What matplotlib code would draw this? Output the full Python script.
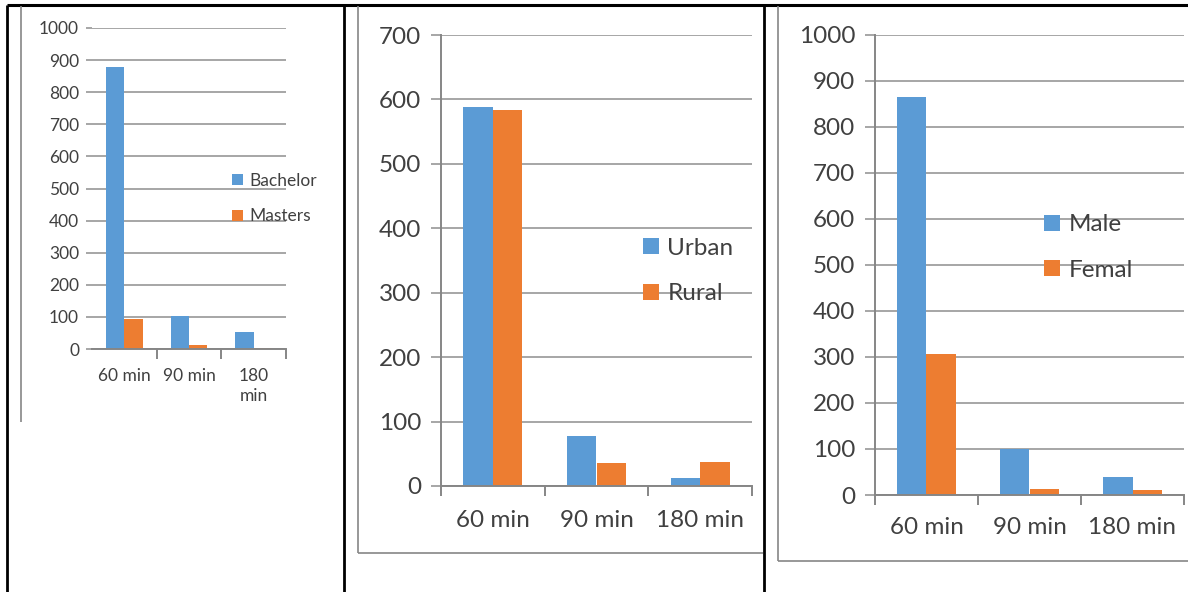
import matplotlib
matplotlib.use("Agg")
import matplotlib.pyplot as plt
from matplotlib.lines import Line2D
from matplotlib.ticker import FixedLocator, NullFormatter

plt.rcParams['font.family'] = ['Lato', 'DejaVu Sans']

# ---- data ----
durations = ["60 min", "90 min", "180 min"]
duration_labels_narrow = ["60 min", "90 min", "180\nmin"]

bachelor = [877, 102, 52]
masters = [95, 12, 4]

urban = [588, 77, 12]
rural = [583, 36, 38]

male = [864, 100, 40]
female = [307, 14, 11]

BLUE = "#5B9BD5"
ORANGE = "#ED7D31"
GRID = "#A6A6A6"
AXIS = "#868686"
TEXT = "#404040"

W, H = 1188, 592
fig = plt.figure(figsize=(W / 100, H / 100), dpi=100)
fig.patch.set_facecolor("white")


def fx(x):
    return x / W


def fy(y):
    return 1 - y / H


def add_axes_px(x0, x1, ytop, ybot):
    return fig.add_axes([fx(x0), fy(ybot), fx(x1) - fx(x0), fy(ytop) - fy(ybot)])


def fline(xs, ys, color, lw):
    fig.add_artist(Line2D([fx(v) for v in xs], [fy(v) for v in ys],
                          color=color, lw=lw, transform=fig.transFigure,
                          solid_capstyle="butt"))


def draw_panel(ax, s1, s2, names, ymax, ystep, xlabels, fs, ytick_len,
               ypad, xpad, show_left, boundary_ticks, leg_x, leg_y, leg_space):
    n = len(s1)
    xs = list(range(n))
    bw = 0.285
    ax.bar([x - bw / 2 for x in xs], s1, width=bw, color=BLUE, label=names[0], zorder=3)
    ax.bar([x + bw / 2 for x in xs], s2, width=bw, color=ORANGE, label=names[1], zorder=3)
    ax.set_xlim(-0.5, n - 0.5)
    ax.set_ylim(0, ymax)
    ax.set_yticks(list(range(0, ymax + 1, ystep)))
    ax.yaxis.grid(True, color=GRID, lw=1.4, zorder=0)
    ax.set_axisbelow(True)
    ax.tick_params(axis="y", direction="out", length=ytick_len, width=1.4,
                   color=GRID, labelsize=fs, labelcolor=TEXT, pad=ypad)
    ax.xaxis.set_major_locator(FixedLocator(boundary_ticks))
    ax.xaxis.set_major_formatter(NullFormatter())
    ax.xaxis.set_minor_locator(FixedLocator(xs))
    ax.set_xticklabels(xlabels, minor=True)
    ax.tick_params(axis="x", which="major", direction="out", length=7, width=1.4, color=AXIS)
    ax.tick_params(axis="x", which="minor", length=0, labelsize=fs, labelcolor=TEXT, pad=xpad)
    for lab in ax.get_xticklabels(minor=True):
        lab.set_linespacing(1.3)
    for side in ("top", "right"):
        ax.spines[side].set_visible(False)
    ax.spines["bottom"].set_color(AXIS)
    ax.spines["bottom"].set_linewidth(1.4)
    ax.spines["bottom"].set_zorder(4)
    if show_left:
        ax.spines["left"].set_color(AXIS)
        ax.spines["left"].set_linewidth(1.4)
    else:
        ax.spines["left"].set_visible(False)
    ax.set_facecolor("none")
    ax.legend(loc="center left", bbox_to_anchor=(fx(leg_x), fy(leg_y)),
              bbox_transform=fig.transFigure, frameon=False, fontsize=fs,
              handlelength=0.65, handleheight=0.65, handletextpad=0.35,
              labelspacing=leg_space, borderpad=0, borderaxespad=0,
              labelcolor=TEXT)


# ---- table borders and chart frames ----
fline([7, W], [5, 5], "black", 2.2)
fline([7, 7], [5, H], "black", 2.0)
fline([344, 344], [5, H], "black", 2.0)
fline([764, 764], [5, H], "black", 2.0)
fline([21, 21], [6, 422], AXIS, 1.2)
fline([358, 358], [6, 553], AXIS, 1.2)
fline([358, 763], [553, 553], AXIS, 1.2)
fline([778, 778], [6, 561], AXIS, 1.2)
fline([778, W], [561, 561], AXIS, 1.2)

# ---- panel 1: degree ----
ax1 = add_axes_px(92, 286, 28, 349)
draw_panel(ax1, bachelor, masters, ["Bachelor", "Masters"], 1000, 100,
           duration_labels_narrow, 12.5, 4.3, 5, 14, False, [0.5, 1.5, 2.5],
           232, 198.5, 1.15)

# ---- panel 2: residence ----
ax2 = add_axes_px(441, 752, 35, 486)
draw_panel(ax2, urban, rural, ["Urban", "Rural"], 700, 100,
           durations, 17.5, 7.2, 7, 17, True, [-0.5, 0.5, 1.5, 2.5],
           643, 271, 1.0)

# ---- panel 3: gender ----
ax3 = add_axes_px(875, 1184, 34.7, 495)
draw_panel(ax3, male, female, ["Male", "Femal"], 1000, 100,
           durations, 17.5, 7.2, 7, 16, True, [-0.5, 0.5, 1.5, 2.5],
           1044, 247.5, 1.0)

fig.savefig("out.png", dpi=100, facecolor="white")
